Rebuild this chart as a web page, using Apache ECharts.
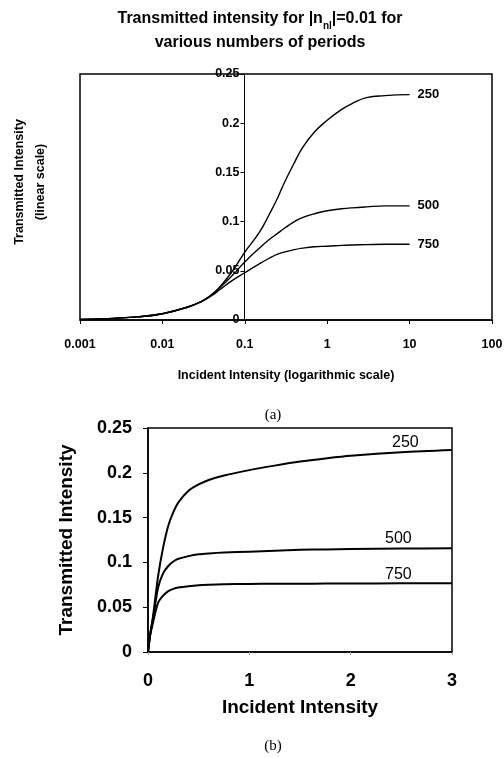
<!DOCTYPE html>
<html>
<head>
<meta charset="utf-8">
<script src="https://cdn.jsdelivr.net/npm/echarts@6/dist/echarts.min.js"></script>
<style>
  html, body { margin: 0; padding: 0; background: #fff; }
  #main { width: 504px; height: 758px; }
</style>
</head>
<body>
<div id="main"></div>
<script>
// (a) log scale of incident intensity
var logX = [0.001, 0.002, 0.005, 0.01, 0.02, 0.03, 0.04, 0.05, 0.07, 0.1, 0.15, 0.2, 0.25, 0.3, 0.4, 0.5, 0.7, 1, 1.5, 2, 3, 5, 10];
var logT250 = [0.0006, 0.0013, 0.0032, 0.0064, 0.013, 0.019, 0.026, 0.034, 0.049, 0.069, 0.089, 0.108, 0.124, 0.139, 0.160, 0.175, 0.191, 0.203, 0.214, 0.220, 0.226, 0.228, 0.229];
var logT500 = [0.0006, 0.0013, 0.0032, 0.0064, 0.013, 0.019, 0.026, 0.033, 0.045, 0.059, 0.073, 0.082, 0.088, 0.093, 0.100, 0.104, 0.108, 0.111, 0.113, 0.114, 0.115, 0.116, 0.116];
var logT750 = [0.0006, 0.0013, 0.0032, 0.0064, 0.013, 0.019, 0.025, 0.031, 0.040, 0.048, 0.057, 0.063, 0.067, 0.069, 0.0715, 0.073, 0.0745, 0.075, 0.0758, 0.0762, 0.0766, 0.077, 0.077];
var logXTicks = [0.001, 0.01, 0.1, 1, 10, 100];

// (b) linear scale
var linX = [0, 0.02, 0.05, 0.1, 0.15, 0.2, 0.25, 0.3, 0.4, 0.5, 0.6, 0.75, 1, 1.25, 1.5, 1.75, 2, 2.5, 3];
var linT250 = [0, 0.019, 0.040, 0.085, 0.117, 0.141, 0.156, 0.167, 0.180, 0.187, 0.192, 0.197, 0.203, 0.208, 0.2125, 0.216, 0.219, 0.223, 0.2255];
var linT500 = [0, 0.018, 0.038, 0.072, 0.088, 0.096, 0.101, 0.104, 0.107, 0.109, 0.110, 0.111, 0.112, 0.113, 0.114, 0.1145, 0.115, 0.1155, 0.1157];
var linT750 = [0, 0.018, 0.033, 0.055, 0.063, 0.068, 0.0705, 0.072, 0.0735, 0.0745, 0.075, 0.0755, 0.076, 0.0761, 0.0762, 0.0764, 0.0765, 0.0766, 0.0767];
var periods = ['250', '500', '750'];

var chart = echarts.init(document.getElementById('main'));

function pairs(xs, ys) {
    var out = [];
    for (var i = 0; i < xs.length; i++) out.push([xs[i], ys[i]]);
    return out;
}

var bold = 'bold';
var topLines = [logT250, logT500, logT750].map(function (ys, i) {
    return {
        type: 'line', xAxisIndex: 0, yAxisIndex: 0,
        data: pairs(logX, ys), smooth: 0.45, symbol: 'none',
        lineStyle: { color: '#000', width: 1.4 },
        endLabel: { show: true, formatter: periods[i], distance: 8,
            fontFamily: 'Liberation Sans', fontWeight: bold, fontSize: 13, color: '#000' }
    };
});
// labels sit above the line, left of the right border
var botOffsets = [[-60, -7], [-67, -10], [-67, -9]];
var botLines = [linT250, linT500, linT750].map(function (ys, i) {
    return {
        type: 'line', xAxisIndex: 1, yAxisIndex: 1,
        data: pairs(linX, ys), smooth: 0.3, symbol: 'none',
        lineStyle: { color: '#000', width: 2 },
        endLabel: { show: true, formatter: periods[i], distance: 0, offset: botOffsets[i],
            fontFamily: 'Liberation Sans', fontSize: 16, color: '#000' }
    };
});

chart.setOption({
    animation: false,
    backgroundColor: '#fff',
    title: [{
        text: 'Transmitted intensity for |n{sub|nl}|=0.01 for\nvarious numbers of periods',
        left: 255, top: 2, textAlign: 'center',
        textStyle: {
            fontFamily: 'Liberation Sans', fontWeight: bold, fontSize: 16, color: '#000', lineHeight: 24,
            rich: { sub: { fontFamily: 'Liberation Sans', fontWeight: bold, fontSize: 10, color: '#000', verticalAlign: 'bottom', padding: [8, 0, 0, 0] } }
        }
    }, {
        text: '(a)', left: 268, top: 403, textAlign: 'center',
        textStyle: { fontFamily: 'Liberation Serif', fontWeight: 'normal', fontSize: 15, color: '#000' }
    }, {
        text: '(b)', left: 268, top: 734, textAlign: 'center',
        textStyle: { fontFamily: 'Liberation Serif', fontWeight: 'normal', fontSize: 15, color: '#000' }
    }],
    grid: [
        { left: 80, right: 12, top: 74, bottom: 438, show: true, borderColor: '#000', borderWidth: 1.5, outerBoundsMode: 'none', containLabel: false },
        { left: 148, right: 52, top: 428, bottom: 106, show: true, borderColor: '#000', borderWidth: 1.5, outerBoundsMode: 'none', containLabel: false }
    ],
    xAxis: [{
        gridIndex: 0, type: 'log', logBase: 10, min: logXTicks[0], max: logXTicks[logXTicks.length - 1],
        name: 'Incident Intensity (logarithmic scale)', nameLocation: 'middle', nameGap: 49,
        nameTextStyle: { fontFamily: 'Liberation Sans', fontWeight: bold, fontSize: 12.5, color: '#000' },
        axisLine: { lineStyle: { color: '#000', width: 1.5 } },
        axisTick: { show: true, length: 4, lineStyle: { color: '#000' } },
        minorTick: { show: false },
        splitLine: { show: false },
        axisLabel: { margin: 18, fontFamily: 'Liberation Sans', fontWeight: bold, fontSize: 12.5, color: '#000',
            formatter: function (v) { return String(+v.toPrecision(3)); } }
    }, {
        gridIndex: 1, type: 'value', min: 0, max: 3, interval: 1,
        name: 'Incident Intensity', nameLocation: 'middle', nameGap: 46,
        nameTextStyle: { fontFamily: 'Liberation Sans', fontWeight: bold, fontSize: 19, color: '#000' },
        axisLine: { lineStyle: { color: '#000', width: 1.5 } },
        axisTick: { show: true, length: 3, lineStyle: { color: '#999' } },
        splitLine: { show: false },
        axisLabel: { margin: 20, fontFamily: 'Liberation Sans', fontWeight: bold, fontSize: 18, color: '#000' }
    }],
    yAxis: [{
        gridIndex: 0, type: 'value', min: 0, max: 0.25, interval: 0.05,
        offset: -164.5,
        name: 'Transmitted Intensity\n(linear scale)', nameLocation: 'middle', nameGap: 193,
        nameTextStyle: { fontFamily: 'Liberation Sans', fontWeight: bold, fontSize: 12.5, color: '#000', lineHeight: 21, padding: [0, 0, 0, 30] },
        axisLine: { show: true, lineStyle: { color: '#000', width: 1 } },
        axisTick: { show: true, length: 4, lineStyle: { color: '#000' } },
        splitLine: { show: false },
        axisLabel: { margin: 5, fontFamily: 'Liberation Sans', fontWeight: bold, fontSize: 12.5, color: '#000' }
    }, {
        gridIndex: 1, type: 'value', min: 0, max: 0.25, interval: 0.05,
        name: 'Transmitted Intensity', nameLocation: 'middle', nameGap: 72,
        nameTextStyle: { fontFamily: 'Liberation Sans', fontWeight: bold, fontSize: 19, color: '#000' },
        axisLine: { show: true, lineStyle: { color: '#000', width: 1.5 } },
        axisTick: { show: true, length: 5, lineStyle: { color: '#000' } },
        splitLine: { show: false },
        axisLabel: { margin: 16, fontFamily: 'Liberation Sans', fontWeight: bold, fontSize: 18, color: '#000' }
    }],
    series: topLines.concat(botLines)
});
</script>
</body>
</html>
